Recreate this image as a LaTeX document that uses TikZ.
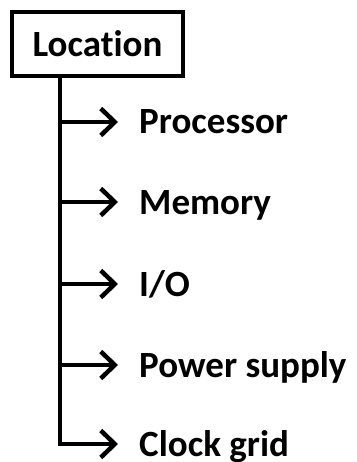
\documentclass[tikz,border=0pt]{standalone}
\usepackage{fontspec}
\setmainfont{Carlito}[Ligatures={NoCommon, NoContextual}]
\usetikzlibrary{arrows.meta, positioning}

\begin{document}
\begin{tikzpicture}[
    x=1pt, y=-1pt,
    every node/.style={font=\bfseries\fontsize{37}{40}\selectfont},
    topbox/.style={rectangle, draw, line width=3.5pt, minimum width=171pt,
                   minimum height=64pt, inner sep=0pt},
    item/.style={anchor=base west, inner sep=0pt},
    arr/.style={-{Straight Barb[length=14pt, width=27pt]}, line width=4.5pt},
  ]
    \useasboundingbox (0,0) rectangle (356,462);
    \node[topbox] (loc) at (97.5, 44) {Location};
    % branches off the trunk
    \foreach \name/\txt/\y in {proc/Processor/122, mem/Memory/202,
                               io/I\slash O/284, psu/Power supply/365,
                               clk/Clock grid/444}{
      \coordinate (j\name) at (60, \y);
      \node[item] (\name) at (139, \y+12) {\txt};}
    \draw[arr] (jproc |- loc.south) -- (jclk) -- ([xshift=-21pt]jclk -| clk.west);
    \foreach \name in {proc, mem, io, psu}
      \draw[arr] (j\name) -- ([xshift=-21pt]j\name -| \name.west);
  \end{tikzpicture}
\end{document}
